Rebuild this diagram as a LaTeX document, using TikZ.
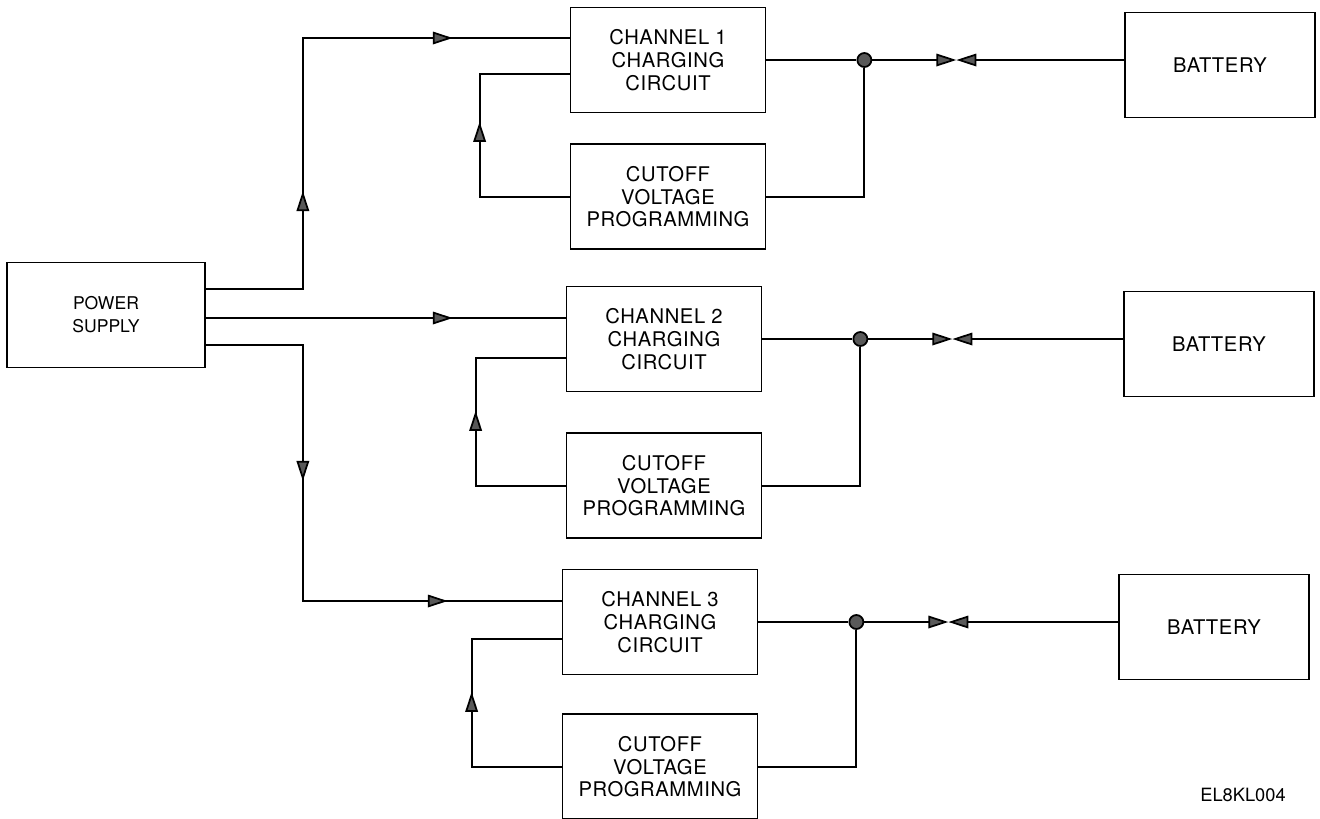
\documentclass[tikz,border=0pt]{standalone}
\usepackage{fontspec}
\setmainfont{TeX Gyre Heros}
\newfontfamily\blockfont{TeX Gyre Heros}[LetterSpace=3]
\usepackage{tikz}
\usetikzlibrary{arrows.meta,positioning,calc,decorations.markings}

\begin{document}
\begin{tikzpicture}[x=0.02cm,y=-0.02cm,line width=1pt,
tri/.tip={Triangle[length=4mm,width=2.5mm,fill=black!65]},
block/.style={draw,minimum width=3.9cm,minimum height=2.1cm,align=center,font=\blockfont\fontsize{11.5}{13}\selectfont},
tipat/.style={postaction={decorate,decoration={markings,mark=at position #1 with {\arrow{tri}}}}},
junc/.style={circle,draw,fill=black!65,inner sep=0pt,minimum size=2.8mm}]
\useasboundingbox (0,0) rectangle (1320,819);
\node[block,minimum width=3.96cm,font=\fontsize{10}{13}\selectfont] (ps) at (106,315) {POWER\\SUPPLY};
\node[block] (ch1) at (668,60) {CHANNEL 1\\CHARGING\\CIRCUIT};
\node[block,below=0.6cm of ch1] (cut1) {CUTOFF\\VOLTAGE\\PROGRAMMING};
\node[block] (ch2) at (664,339) {CHANNEL 2\\CHARGING\\CIRCUIT};
\node[block,below=0.8cm of ch2] (cut2) {CUTOFF\\VOLTAGE\\PROGRAMMING};
\node[block] (ch3) at (660,622) {CHANNEL 3\\CHARGING\\CIRCUIT};
\node[block,below=0.76cm of ch3] (cut3) {CUTOFF\\VOLTAGE\\PROGRAMMING};
\node[block,minimum width=3.8cm] (bat1) at (1220,65) {BATTERY};
\node[block,minimum width=3.8cm] (bat2) at (1219,344) {BATTERY};
\node[block,minimum width=3.8cm] (bat3) at (1214,627) {BATTERY};
\node[font=\fontsize{10.4}{12}\selectfont] (figid) at (1243,795) {EL8KL004};
% supply to the three channels
\draw[tipat=3.9cm,tipat=9.96cm] ($(ps.east)+(0,-26)$) -- ++(97,0) |- ($(ch1.west)+(0,-22)$);
\draw[tipat=4.94cm] ($(ps.east)+(0,3)$) -- ($(ch2.west)+(0,-21)$);
\draw[tipat=4.66cm,tipat=9.96cm] ($(ps.east)+(0,30)$) -- ++(97,0) |- ($(ch3.west)+(0,-21)$);
% cutoff feedback
\draw[tipat=3.3cm] (cut1.west) -- ++(-90,0) |- ($(ch1.west)+(0,14)$);
\draw[tipat=3.3cm] (cut2.west) -- ++(-90,0) |- ($(ch2.west)+(0,19)$);
\draw[tipat=3.3cm] (cut3.west) -- ++(-90,0) |- ($(ch3.west)+(0,17)$);
% outputs to batteries
\node[junc] (j1) at ($(ch1.east)+(98,0)$) {};
\node[junc] (j2) at ($(ch2.east)+(98,0)$) {};
\node[junc] (j3) at ($(ch3.east)+(98,0)$) {};
\coordinate (tie1) at ($(j1)+(92,0)$);
\coordinate (tie2) at ($(j2)+(92,0)$);
\coordinate (tie3) at ($(j3)+(92,0)$);
\draw (ch1.east) -- (j1);
\draw (cut1.east) -| (j1);
\draw[-tri] (j1) -- (tie1);
\draw[-tri] (tie1 -| bat1.west) -- (tie1);
\draw (ch2.east) -- (j2);
\draw (cut2.east) -| (j2);
\draw[-tri] (j2) -- (tie2);
\draw[-tri] (tie2 -| bat2.west) -- (tie2);
\draw (ch3.east) -- (j3);
\draw (cut3.east) -| (j3);
\draw[-tri] (j3) -- (tie3);
\draw[-tri] (tie3 -| bat3.west) -- (tie3);
\end{tikzpicture}
\end{document}
